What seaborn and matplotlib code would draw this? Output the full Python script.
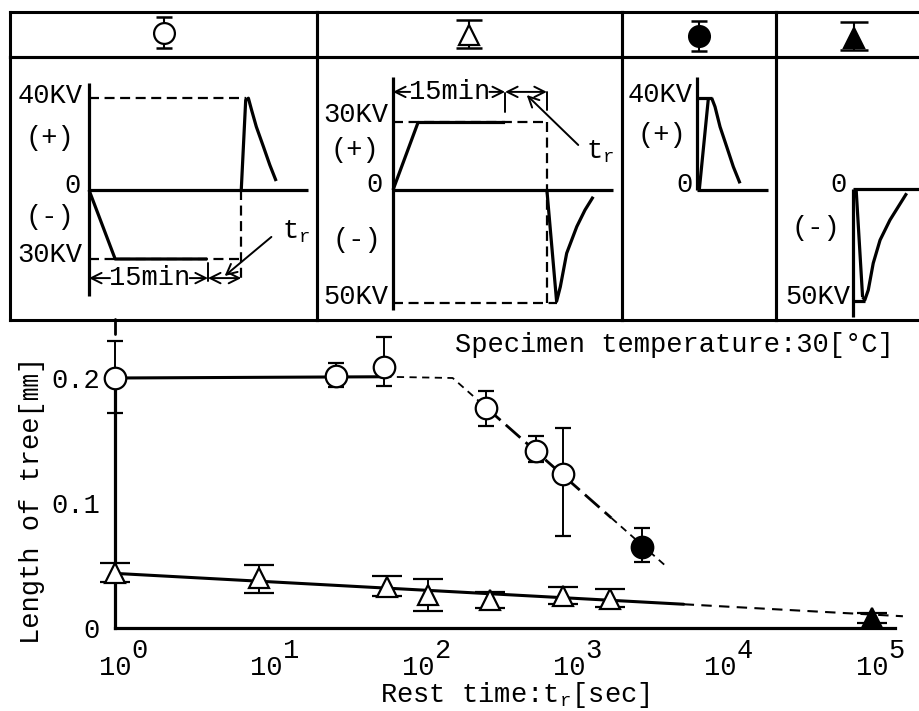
import matplotlib
matplotlib.use("Agg")
import matplotlib.pyplot as plt
from matplotlib.ticker import NullLocator
import numpy as np
import pandas as pd
import seaborn as sns

sns.set_theme(style="white")
FONT = ["Liberation Mono", "Noto Sans CJK JP", "DejaVu Sans"]
plt.rcParams["font.family"] = FONT
plt.rcParams["mathtext.fontset"] = "custom"
plt.rcParams["mathtext.tt"] = "Liberation Mono"
plt.rcParams["mathtext.rm"] = "Liberation Mono"
plt.rcParams["axes.edgecolor"] = "black"
plt.rcParams["text.color"] = "black"
plt.rcParams["xtick.color"] = "black"
plt.rcParams["ytick.color"] = "black"
FS = 19.5

# ---------------- main chart data (x: rest time [s], y: tree length [mm]) ----------------
circle_x   = [1, 29, 60, 282, 603, 908]
circle_y   = [0.200, 0.202, 0.209, 0.176, 0.142, 0.123]
circle_top = [0.230, 0.212, 0.233, 0.190, 0.154, 0.160]
circle_bot = [0.172, 0.193, 0.194, 0.162, 0.133, 0.074]

fcircle_x   = [3030]
fcircle_y   = [0.0645]
fcircle_top = [0.080]
fcircle_bot = [0.053]

tri_x   = [1, 9, 63, 116, 300, 908, 1850]
tri_y   = [0.0437, 0.040, 0.033, 0.0264, 0.0224, 0.0256, 0.023]
tri_top = [0.0517, 0.0504, 0.042, 0.039, 0.029, 0.033, 0.031]
tri_bot = [0.037, 0.0283, 0.026, 0.0136, 0.016, 0.019, 0.017]

ftri_x   = [1.0e5]
ftri_y   = [0.008]
ftri_top = [0.012]
ftri_bot = [0.004]

circ_solid_x = [1, 60];            circ_solid_y = [0.200, 0.201]
circ_dash1_x = [60, 170, 282];     circ_dash1_y = [0.201, 0.200, 0.1765]
circ_long_x  = [282, 1900];        circ_long_y  = [0.1765, 0.088]
circ_dash2_x = [1900, 4400];       circ_dash2_y = [0.088, 0.049]
tri_solid_x  = [1, 5700];          tri_solid_y  = [0.0437, 0.019]
tri_dash_x   = [5700, 1.6e5];      tri_dash_y   = [0.019, 0.0094]

xtick_exp    = [0, 1, 2, 3, 4, 5]
ytick_vals   = [0, 0.1, 0.2]
ytick_labels = ["0", "0.1", "0.2"]

# ---------------- schematic waveforms (t: minutes, v: kV) ----------------
p1_axis_v  = [46.5, -46.1]
p1_zero_t  = [0, 27.6]
p1_apply_t = [0, 3.3, 14.9];   p1_apply_v = [0, -30, -30]
p1_resp_t  = [19.2, 19.76, 20.1, 20.5, 21.1, 22.0, 22.8, 23.6]
p1_resp_v  = [0, 39.1, 39.9, 34.8, 27.5, 18.8, 10.9, 3.9]
p1_stress, p1_tr = 15.0, 4.2

p2_axis_v  = [50.2, -53.3]
p2_zero_t  = [0, 29.5]
p2_apply_t = [0, 3.35, 15.0];  p2_apply_v = [0, 30, 30]
p2_resp_t  = [20.6, 21.9, 22.4, 23.25, 24.6, 25.7, 26.8]
p2_resp_v  = [0, -49.5, -43, -28.1, -16.3, -8.9, -3.0]
p2_stress, p2_tr = 15.0, 5.6

p3_axis_v  = [49, 0]
p3_zero_t  = [0, 9.3]
p3_rise_t  = [0.3, 1.5];       p3_rise_v = [0, 40]
p3_top_t   = [0, 1.93];        p3_top_v  = [40, 40]
p3_decay_t = [1.93, 2.37, 3.03, 3.91, 4.78, 5.66]
p3_decay_v = [40, 36.2, 27.5, 18.8, 10.1, 2.9]

p4_axis_v  = [0, -56.9]
p4_zero_t  = [0, 12]
p4_fall_t  = [0.45, 1.3];      p4_fall_v = [0, -48]
p4_bot_t   = [0, 1.6];         p4_bot_v  = [-49.8, -49.8]
p4_rec_t   = [1.3, 1.6, 2.05, 2.7, 3.6, 4.9, 7.1]
p4_rec_v   = [-48, -49.3, -44.9, -33, -22.7, -13.8, -1.9]

# ---------------- figure / layout ----------------
W, H = 919, 711
fig = plt.figure(figsize=(W / 100, H / 100), dpi=100)
fig.patch.set_facecolor("white")


def px_axes(x0, y0, x1, y1):
    return fig.add_axes([x0 / W, 1 - y1 / H, (x1 - x0) / W, (y1 - y0) / H])


def box(ax):
    ax.set_xticks([]); ax.set_yticks([])
    ax.set_facecolor("none")
    for s in ax.spines.values():
        s.set_visible(True); s.set_linewidth(2.2); s.set_color("black")


COL = [10, 317, 622, 776, 932]
ROW = [12, 57, 320]

# header cells with legend symbols
hdr_specs = [
    dict(marker="o", fc="white", ms=15, yc=0.544, err=0.344, cap=5.5, my=0.544),
    dict(marker="^", fc="white", ms=14, yc=0.511, err=0.311, cap=9.4, my=0.49),
    dict(marker="o", fc="black", ms=15, yc=0.473, err=0.333, cap=6.0, my=0.477),
    dict(marker="^", fc="black", ms=15, yc=0.47, err=0.315, cap=10.0, my=0.42),
]
for i, sp in enumerate(hdr_specs):
    h = px_axes(COL[i], ROW[0], COL[i + 1], ROW[1])
    box(h)
    h.set_xlim(0, 1); h.set_ylim(0, 1)
    h.errorbar([0.5], [sp["yc"]], yerr=[[sp["err"]], [sp["err"]]], fmt="none",
               ecolor="black", elinewidth=1.5, capsize=sp["cap"], capthick=1.8)
    h.plot([0.5], [sp["my"]], marker=sp["marker"], ms=sp["ms"], mfc=sp["fc"],
           mec="black", mew=1.6, ls="none", zorder=5)

# waveform cells: (x0, x1, origin_x_px, origin_y_px, px_per_min, px_per_kV)
geom = [(10, 317, 89, 190, 7.93, 2.3), (317, 622, 393, 190, 7.47, 2.25),
        (622, 776, 697, 190, 7.6, 2.3), (776, 932, 852.7, 189, 7.6, 2.25)]
wax = []
for (x0, x1, ox, oy, sx, sy) in geom:
    a = px_axes(x0, ROW[1], x1, ROW[2])
    box(a)
    a.set_xlim((x0 - ox) / sx, (x1 - ox) / sx)
    a.set_ylim((oy - ROW[2]) / sy, (oy - ROW[1]) / sy)
    wax.append(a)

LW = 2.3
DASH = dict(color="black", lw=1.6, ls=(0, (4.5, 2.5)))


def solid(a, t, v, lw=LW):
    a.plot(t, v, color="black", lw=lw, solid_capstyle="butt", solid_joinstyle="round")


def arrow(a, x_from, x_to, y, style="->"):
    a.annotate("", xy=(x_to, y), xytext=(x_from, y),
               arrowprops=dict(arrowstyle=style + ",head_length=0.5,head_width=0.25",
                               lw=1.4, color="black", shrinkA=0, shrinkB=0,
                               mutation_scale=15))


def tr_label(a, x, y, ax_from, ax_to):
    a.text(x, y, r"$\mathtt{t_r}$", fontsize=FS, ha="left", va="center")
    a.annotate("", xy=ax_to, xytext=ax_from,
               arrowprops=dict(arrowstyle="->,head_length=0.5,head_width=0.25",
                               lw=1.4, color="black", shrinkA=0, shrinkB=0,
                               mutation_scale=15))


def txt(a, s, x, y, ha="center"):
    a.text(x, y, s, fontsize=FS, ha=ha, va="center")


# --- panel 1 (open circle): -30 kV 15 min, rest, +40 kV impulse
a = wax[0]
solid(a, [0, 0], p1_axis_v)
solid(a, p1_zero_t, [0, 0])
solid(a, p1_apply_t, p1_apply_v)
solid(a, p1_resp_t, p1_resp_v)
a.plot([0, 19.8], [40, 40], **DASH)
a.plot([0, p1_stress + p1_tr], [-30, -30], **DASH)
a.plot([p1_stress + p1_tr] * 2, [0, -39], **DASH)
a.plot([p1_stress] * 2, [-31.7, -39.5], color="black", lw=1.4)
arrow(a, 2.65, 0, -38.3)
txt(a, "15min", 7.6, -38.3)
arrow(a, 12.7, p1_stress, -38.3)
arrow(a, p1_stress, p1_stress + p1_tr, -38.3, "<->")
tr_label(a, 24.3, -18.3, (23.0, -20.4), (17.1, -37.4))
txt(a, "40KV", -0.8, 40.9, "right")
txt(a, "(+)", -4.9, 22.8)
txt(a, "0", -1.1, 1.7, "right")
txt(a, "(-)", -4.9, -11.7)
txt(a, "30KV", -0.8, -28.3, "right")

# --- panel 2 (open triangle): +30 kV 15 min, rest, -50 kV impulse
a = wax[1]
solid(a, [0, 0], p2_axis_v)
solid(a, p2_zero_t, [0, 0])
solid(a, p2_apply_t, p2_apply_v)
solid(a, p2_resp_t, p2_resp_v)
a.plot([0, p2_stress + p2_tr], [30, 30], **DASH)
a.plot([p2_stress + p2_tr] * 2, [30, -50], **DASH)
a.plot([0, 21.9], [-50, -50], **DASH)
a.plot([p2_stress] * 2, [34.5, 43.0], color="black", lw=1.4)
a.plot([p2_stress + p2_tr] * 2, [35.5, 43.6], color="black", lw=1.4)
arrow(a, 2.3, 0, 43.6)
txt(a, "15min", 7.6, 43.6)
arrow(a, 12.9, p2_stress, 43.6)
arrow(a, p2_stress, p2_stress + p2_tr, 43.6, "<->")
tr_label(a, 25.8, 16.9, (24.8, 20.0), (17.9, 42.2))
txt(a, "30KV", -0.6, 33.3, "right")
txt(a, "(+)", -5.1, 17.8)
txt(a, "0", -1.4, 2.2, "right")
txt(a, "(-)", -4.8, -22.2)
txt(a, "50KV", -0.6, -47.6, "right")

# --- panel 3 (filled circle): +40 kV impulse only
a = wax[2]
solid(a, [0, 0], p3_axis_v)
solid(a, p3_zero_t, [0, 0])
solid(a, p3_rise_t, p3_rise_v)
solid(a, p3_top_t, p3_top_v)
solid(a, p3_decay_t, p3_decay_v)
txt(a, "40KV", -0.6, 41.3, "right")
txt(a, "(+)", -4.6, 23.9)
txt(a, "0", -0.6, 2.2, "right")

# --- panel 4 (filled triangle): -50 kV impulse only
a = wax[3]
solid(a, [0, 0], p4_axis_v)
solid(a, p4_zero_t, [0, 0])
solid(a, p4_fall_t, p4_fall_v)
solid(a, p4_bot_t, p4_bot_v)
solid(a, p4_rec_t, p4_rec_v)
txt(a, "0", -0.8, 1.8, "right")
txt(a, "(-)", -4.8, -17.3)
txt(a, "50KV", -0.35, -48.0, "right")

# ---------------- main chart ----------------
ax = px_axes(115, 628 - 0.25 * 1250, 115 + 5.15 * 151.4, 628)
ax.set_facecolor("none")
ax.set_xscale("log")
ax.set_xlim(1, 10 ** 5.15)
ax.set_ylim(0, 0.25)
sns.despine(ax=ax)
for s in ("left", "bottom"):
    ax.spines[s].set_linewidth(2.3)
    ax.spines[s].set_color("black")
ax.spines["left"].set_bounds(0, 0.2)

ax.set_xticks([10.0 ** e for e in xtick_exp])
ax.set_xticklabels([])
ax.xaxis.set_minor_locator(NullLocator())
ax.set_yticks(ytick_vals, labels=ytick_labels)
ax.tick_params(axis="x", direction="in", length=11, width=2.2)
ax.tick_params(axis="y", direction="in", length=14, width=2.2, pad=11, labelsize=FS)

for e in xtick_exp:
    ax.annotate("10", xy=(10.0 ** e, 0), xytext=(0, -33.8), textcoords="offset points",
                ha="center", va="baseline", fontsize=FS, annotation_clip=False)
    ax.annotate(str(e), xy=(10.0 ** e, 0), xytext=(17.5, -21.6), textcoords="offset points",
                ha="center", va="baseline", fontsize=FS, annotation_clip=False)

fit = dict(color="black", estimator=None, sort=False, ax=ax, legend=False)
sns.lineplot(x=circ_solid_x, y=circ_solid_y, lw=2.2, **fit)
sns.lineplot(x=circ_dash1_x, y=circ_dash1_y, lw=1.3, linestyle=(0, (4, 3)), **fit)
sns.lineplot(x=circ_long_x, y=circ_long_y, lw=2.0, linestyle=(0, (7, 2.5)), **fit)
sns.lineplot(x=circ_dash2_x, y=circ_dash2_y, lw=1.3, linestyle=(0, (4, 3)), **fit)
sns.lineplot(x=tri_solid_x, y=tri_solid_y, lw=2.2, **fit)
sns.lineplot(x=tri_dash_x, y=tri_dash_y, lw=1.5, linestyle=(0, (5, 3.5)), **fit)
for ln in ax.get_lines():
    ln.set_zorder(2)
    ln.set_clip_on(False)


def err(y, top, bot):
    y, top, bot = map(np.asarray, (y, top, bot))
    return [y - bot, top - y]


eb = dict(ecolor="black", elinewidth=1.4, capthick=1.7, mec="black", mew=1.6,
          ls="none", zorder=5, clip_on=False)
ax.errorbar(circle_x, circle_y, yerr=err(circle_y, circle_top, circle_bot), fmt="o",
            ms=15.5, mfc="white", capsize=5.5, **eb)
ax.errorbar(fcircle_x, fcircle_y, yerr=err(fcircle_y, fcircle_top, fcircle_bot), fmt="o",
            ms=15.5, mfc="black", capsize=5.5, **eb)
ax.errorbar(tri_x, tri_y, yerr=err(tri_y, tri_top, tri_bot), fmt="^",
            ms=14, mfc="white", capsize=10.5, **eb)
ax.errorbar(ftri_x, ftri_y, yerr=err(ftri_y, ftri_top, ftri_bot), fmt="^",
            ms=14, mfc="black", capsize=10.5, **eb)

# short dash above the first error bar on the time axis origin
ax.plot([1, 1], [0.2355, 0.2475], color="black", lw=2.0, clip_on=False, zorder=2)

fig.text(32 / W, 1 - 500 / H, "Length of tree[㎜]", rotation=90, ha="center",
         va="center", fontsize=FS, family=FONT)
fig.text(380 / W, 1 - 702 / H, r"Rest time:$\mathtt{t_r}$[sec]", ha="left",
         va="baseline", fontsize=FS)
fig.text(455 / W, 1 - 352 / H, "Specimen temperature:30[°C]", ha="left",
         va="baseline", fontsize=FS)

fig.savefig("out.png", dpi=100, facecolor="white")
